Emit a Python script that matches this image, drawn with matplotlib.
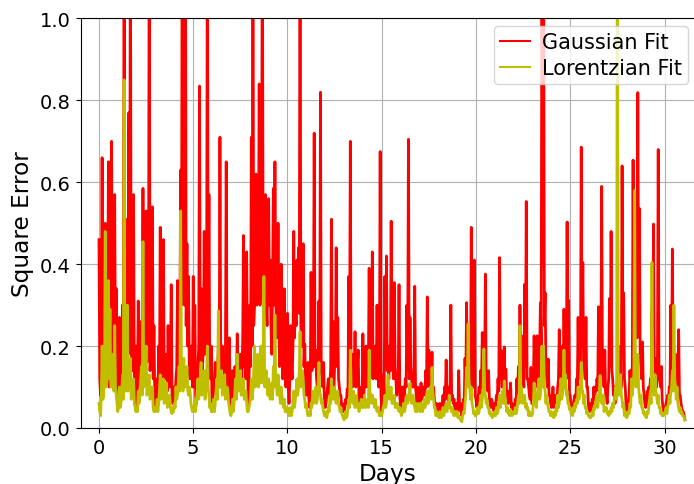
import matplotlib
matplotlib.use("Agg")
import matplotlib.pyplot as plt
import numpy as np

# Square error of the two line-shape fits, sampled hourly (24 samples per day).
samples_per_day = 24

gauss_err = [
    # day 0
    0.46, 0.12, 0.08, 0.20, 0.66, 0.10, 0.15, 0.28, 0.50, 0.12, 0.14, 0.22, 0.65, 0.10, 0.20, 0.26, 0.70, 0.12, 0.18, 0.30, 0.57, 0.14, 0.34, 0.08,
    0.05, 0.12, 0.27, 0.08, 0.10, 0.18, 0.30, 0.10, 1.30, 0.16, 0.15, 0.22, 0.51, 0.18, 0.77, 0.20, 1.30, 0.16, 0.14, 0.25, 0.57, 0.10, 0.12, 0.20,
    0.05, 0.10, 0.31, 0.12, 0.26, 0.10, 0.12, 0.20, 0.585, 0.14, 0.30, 0.12, 0.53, 0.16, 0.475, 0.20, 1.30, 0.14, 0.18, 0.22, 0.54, 0.12, 0.25, 0.08,
    0.05, 0.08, 0.12, 0.06, 0.20, 0.12, 0.49, 0.10, 0.15, 0.20, 0.46, 0.12, 0.12, 0.18, 0.16, 0.09, 0.25, 0.12, 0.10, 0.14, 0.35, 0.08, 0.06, 0.10,
    0.05, 0.08, 0.12, 0.15, 0.36, 0.12, 0.15, 0.25, 0.63, 0.30, 1.30, 0.35, 0.45, 0.30, 1.30, 0.25, 0.45, 0.20, 0.37, 0.14, 0.12, 0.18, 0.20, 0.10,
    # day 5
    0.37, 0.10, 0.30, 0.08, 0.06, 0.10, 0.15, 0.20, 0.835, 0.15, 0.34, 0.12, 0.15, 0.22, 0.48, 0.18, 0.20, 0.25, 1.30, 0.20, 0.57, 0.14, 0.12, 0.20,
    0.04, 0.08, 0.10, 0.12, 0.16, 0.08, 0.10, 0.14, 0.20, 0.10, 0.71, 0.15, 0.12, 0.20, 0.16, 0.10, 0.12, 0.18, 0.65, 0.12, 0.10, 0.16, 0.22, 0.08,
    0.04, 0.07, 0.14, 0.08, 0.10, 0.15, 0.14, 0.10, 0.23, 0.14, 0.12, 0.16, 0.18, 0.10, 0.12, 0.22, 0.47, 0.15, 0.20, 0.12, 0.43, 0.20, 0.06, 0.10,
    0.30, 0.15, 0.71, 0.20, 1.30, 0.25, 0.30, 0.35, 0.62, 0.30, 0.53, 0.40, 0.84, 0.30, 0.35, 0.45, 1.30, 0.35, 0.30, 0.40, 0.57, 0.30, 0.25, 0.40,
    0.56, 0.30, 0.41, 0.25, 0.18, 0.35, 0.585, 0.30, 0.65, 0.35, 0.22, 0.30, 0.50, 0.25, 0.15, 0.22, 0.40, 0.18, 0.12, 0.20, 0.34, 0.15, 0.10, 0.18,
    # day 10
    0.28, 0.10, 0.06, 0.12, 0.25, 0.15, 0.12, 0.20, 0.48, 0.22, 0.33, 0.25, 0.41, 0.30, 0.44, 0.28, 1.30, 0.25, 0.20, 0.20, 0.45, 0.15, 0.205, 0.10,
    0.08, 0.12, 0.16, 0.08, 0.05, 0.10, 0.38, 0.14, 0.15, 0.20, 0.72, 0.15, 0.19, 0.12, 0.10, 0.16, 0.31, 0.15, 0.82, 0.14, 0.12, 0.10, 0.16, 0.06,
    0.05, 0.06, 0.08, 0.10, 0.12, 0.08, 0.10, 0.15, 0.51, 0.12, 0.26, 0.10, 0.15, 0.18, 0.44, 0.15, 0.27, 0.12, 0.10, 0.08, 0.08, 0.05, 0.06, 0.04,
    0.04, 0.05, 0.07, 0.06, 0.095, 0.08, 0.37, 0.15, 0.70, 0.12, 0.15, 0.10, 0.18, 0.12, 0.235, 0.10, 0.12, 0.15, 0.19, 0.08, 0.06, 0.07, 0.10, 0.06,
    0.23, 0.08, 0.10, 0.14, 0.20, 0.10, 0.12, 0.16, 0.39, 0.12, 0.15, 0.18, 0.43, 0.12, 0.14, 0.16, 0.20, 0.12, 0.30, 0.15, 0.10, 0.12, 0.675, 0.08,
    # day 15
    0.04, 0.06, 0.13, 0.08, 0.37, 0.15, 0.42, 0.14, 0.18, 0.12, 0.20, 0.14, 0.505, 0.18, 0.15, 0.12, 0.355, 0.15, 0.12, 0.08, 0.10, 0.12, 0.35, 0.08,
    0.05, 0.07, 0.10, 0.06, 0.10, 0.08, 0.12, 0.10, 0.30, 0.14, 0.705, 0.12, 0.27, 0.15, 0.12, 0.10, 0.10, 0.12, 0.346, 0.10, 0.08, 0.06, 0.10, 0.05,
    0.05, 0.06, 0.11, 0.07, 0.08, 0.10, 0.10, 0.08, 0.14, 0.10, 0.32, 0.12, 0.19, 0.10, 0.14, 0.12, 0.185, 0.08, 0.10, 0.07, 0.05, 0.04, 0.06, 0.05,
    0.04, 0.05, 0.06, 0.04, 0.05, 0.06, 0.08, 0.05, 0.10, 0.07, 0.166, 0.08, 0.10, 0.06, 0.08, 0.10, 0.30, 0.07, 0.08, 0.06, 0.07, 0.04, 0.05, 0.06,
    0.05, 0.04, 0.14, 0.06, 0.06, 0.04, 0.03, 0.05, 0.07, 0.06, 0.17, 0.10, 0.306, 0.12, 0.20, 0.15, 0.15, 0.10, 0.49, 0.12, 0.12, 0.10, 0.41, 0.08,
    # day 20
    0.07, 0.05, 0.06, 0.08, 0.10, 0.06, 0.14, 0.10, 0.233, 0.10, 0.12, 0.14, 0.376, 0.10, 0.12, 0.09, 0.14, 0.07, 0.06, 0.05, 0.07, 0.06, 0.05, 0.04,
    0.06, 0.05, 0.08, 0.07, 0.12, 0.09, 0.416, 0.12, 0.19, 0.10, 0.10, 0.12, 0.198, 0.10, 0.144, 0.08, 0.08, 0.06, 0.09, 0.07, 0.11, 0.05, 0.06, 0.04,
    0.04, 0.05, 0.07, 0.06, 0.12, 0.08, 0.15, 0.10, 0.30, 0.12, 0.225, 0.14, 0.12, 0.10, 0.351, 0.15, 0.553, 0.12, 0.12, 0.10, 0.08, 0.07, 0.148, 0.06,
    0.06, 0.10, 0.225, 0.12, 0.10, 0.14, 0.225, 0.12, 0.148, 0.18, 0.306, 0.20, 1.30, 0.40, 1.30, 0.25, 0.33, 0.15, 0.12, 0.10, 0.168, 0.08, 0.08, 0.06,
    0.05, 0.06, 0.10, 0.05, 0.08, 0.07, 0.08, 0.06, 0.10, 0.12, 0.24, 0.10, 0.12, 0.15, 0.20, 0.12, 0.29, 0.15, 0.14, 0.12, 0.503, 0.14, 0.312, 0.08,
    # day 25
    0.08, 0.05, 0.05, 0.04, 0.06, 0.07, 0.08, 0.06, 0.12, 0.10, 0.27, 0.12, 0.15, 0.14, 0.686, 0.20, 0.404, 0.15, 0.15, 0.12, 0.27, 0.10, 0.10, 0.06,
    0.04, 0.05, 0.06, 0.04, 0.07, 0.06, 0.10, 0.07, 0.10, 0.09, 0.12, 0.10, 0.296, 0.12, 0.15, 0.14, 0.59, 0.12, 0.12, 0.10, 0.19, 0.08, 0.08, 0.06,
    0.10, 0.12, 0.316, 0.15, 0.48, 0.14, 0.12, 0.08, 0.10, 0.06, 0.08, 0.07, 0.12, 0.10, 0.20, 0.12, 0.14, 0.10, 0.64, 0.20, 0.33, 0.12, 0.10, 0.06,
    0.04, 0.05, 0.06, 0.08, 0.14, 0.10, 0.13, 0.15, 0.654, 0.20, 0.30, 0.25, 0.40, 0.22, 0.819, 0.30, 0.536, 0.18, 0.15, 0.12, 0.21, 0.10, 0.08, 0.06,
    0.05, 0.06, 0.09, 0.07, 0.10, 0.08, 0.12, 0.10, 0.286, 0.15, 0.498, 0.14, 0.17, 0.12, 0.10, 0.14, 0.68, 0.12, 0.12, 0.10, 0.15, 0.07, 0.05, 0.04,
    # day 30
    0.04, 0.05, 0.06, 0.07, 0.08, 0.06, 0.10, 0.09, 0.30, 0.14, 0.437, 0.15, 0.15, 0.12, 0.18, 0.10, 0.10, 0.12, 0.24, 0.08, 0.08, 0.06, 0.05, 0.04,
    0.04, 0.03, 0.02,
]

lorentz_err = [
    # day 0
    0.06, 0.04, 0.03, 0.08, 0.20, 0.07, 0.08, 0.14, 0.48, 0.10, 0.11, 0.15, 0.36, 0.12, 0.29, 0.10, 0.10, 0.14, 0.18, 0.09, 0.25, 0.10, 0.08, 0.06,
    0.04, 0.06, 0.10, 0.05, 0.06, 0.09, 0.13, 0.07, 0.85, 0.10, 0.09, 0.12, 0.30, 0.09, 0.10, 0.12, 0.17, 0.07, 0.08, 0.10, 0.12, 0.06, 0.05, 0.04,
    0.05, 0.04, 0.09, 0.06, 0.08, 0.11, 0.15, 0.08, 0.455, 0.10, 0.11, 0.14, 0.20, 0.08, 0.09, 0.12, 0.13, 0.07, 0.08, 0.10, 0.10, 0.05, 0.04, 0.05,
    0.04, 0.05, 0.07, 0.04, 0.06, 0.09, 0.13, 0.07, 0.08, 0.10, 0.12, 0.06, 0.07, 0.09, 0.11, 0.05, 0.06, 0.07, 0.08, 0.05, 0.04, 0.035, 0.05, 0.04,
    0.06, 0.05, 0.10, 0.07, 0.08, 0.11, 0.15, 0.09, 0.53, 0.12, 0.12, 0.09, 0.17, 0.11, 0.10, 0.13, 0.15, 0.09, 0.08, 0.10, 0.09, 0.06, 0.05, 0.04,
    # day 5
    0.04, 0.05, 0.07, 0.04, 0.06, 0.09, 0.12, 0.07, 0.09, 0.12, 0.16, 0.08, 0.10, 0.11, 0.14, 0.07, 0.09, 0.12, 0.20, 0.10, 0.08, 0.05, 0.06, 0.04,
    0.04, 0.05, 0.07, 0.04, 0.06, 0.09, 0.12, 0.07, 0.286, 0.10, 0.10, 0.12, 0.14, 0.08, 0.09, 0.11, 0.13, 0.07, 0.08, 0.10, 0.09, 0.06, 0.05, 0.035,
    0.03, 0.04, 0.07, 0.04, 0.06, 0.09, 0.12, 0.07, 0.18, 0.11, 0.09, 0.12, 0.14, 0.08, 0.08, 0.11, 0.12, 0.07, 0.07, 0.09, 0.06, 0.04, 0.04, 0.05,
    0.06, 0.08, 0.12, 0.07, 0.09, 0.14, 0.20, 0.10, 0.12, 0.15, 0.18, 0.10, 0.11, 0.15, 0.20, 0.11, 0.14, 0.16, 0.37, 0.10, 0.12, 0.14, 0.10, 0.08,
    0.12, 0.08, 0.07, 0.09, 0.11, 0.07, 0.15, 0.10, 0.276, 0.12, 0.10, 0.08, 0.13, 0.10, 0.08, 0.06, 0.10, 0.08, 0.06, 0.05, 0.07, 0.04, 0.04, 0.05,
    # day 10
    0.05, 0.035, 0.03, 0.04, 0.05, 0.03, 0.04, 0.06, 0.09, 0.05, 0.07, 0.09, 0.12, 0.08, 0.10, 0.14, 0.235, 0.10, 0.11, 0.14, 0.12, 0.08, 0.07, 0.05,
    0.06, 0.04, 0.03, 0.035, 0.04, 0.03, 0.06, 0.05, 0.09, 0.06, 0.07, 0.08, 0.10, 0.06, 0.07, 0.10, 0.16, 0.09, 0.08, 0.06, 0.07, 0.05, 0.04, 0.03,
    0.03, 0.04, 0.025, 0.035, 0.05, 0.04, 0.08, 0.06, 0.12, 0.08, 0.07, 0.09, 0.10, 0.07, 0.06, 0.08, 0.09, 0.06, 0.05, 0.04, 0.05, 0.035, 0.03, 0.025,
    0.02, 0.03, 0.04, 0.025, 0.03, 0.05, 0.07, 0.05, 0.19, 0.10, 0.08, 0.06, 0.09, 0.07, 0.05, 0.07, 0.08, 0.05, 0.06, 0.04, 0.05, 0.06, 0.07, 0.05,
    0.06, 0.05, 0.08, 0.06, 0.05, 0.06, 0.07, 0.05, 0.19, 0.09, 0.08, 0.06, 0.08, 0.07, 0.06, 0.05, 0.07, 0.05, 0.04, 0.05, 0.05, 0.03, 0.035, 0.03,
    # day 15
    0.03, 0.04, 0.05, 0.06, 0.08, 0.05, 0.06, 0.09, 0.13, 0.08, 0.07, 0.09, 0.10, 0.06, 0.06, 0.07, 0.08, 0.05, 0.05, 0.06, 0.06, 0.045, 0.04, 0.05,
    0.04, 0.03, 0.035, 0.05, 0.06, 0.04, 0.05, 0.07, 0.08, 0.06, 0.07, 0.09, 0.11, 0.07, 0.06, 0.08, 0.08, 0.06, 0.05, 0.04, 0.06, 0.04, 0.05, 0.06,
    0.05, 0.04, 0.06, 0.05, 0.04, 0.05, 0.07, 0.05, 0.06, 0.08, 0.09, 0.06, 0.07, 0.09, 0.10, 0.07, 0.148, 0.09, 0.07, 0.05, 0.05, 0.03, 0.04, 0.03,
    0.03, 0.025, 0.04, 0.03, 0.025, 0.035, 0.05, 0.03, 0.04, 0.05, 0.06, 0.04, 0.05, 0.06, 0.08, 0.05, 0.05, 0.04, 0.05, 0.035, 0.03, 0.04, 0.04, 0.03,
    0.04, 0.025, 0.03, 0.025, 0.02, 0.02, 0.015, 0.03, 0.04, 0.035, 0.06, 0.08, 0.148, 0.10, 0.254, 0.12, 0.10, 0.07, 0.10, 0.06, 0.05, 0.035, 0.04, 0.03,
    # day 20
    0.03, 0.04, 0.05, 0.035, 0.04, 0.06, 0.08, 0.05, 0.07, 0.09, 0.193, 0.09, 0.08, 0.06, 0.07, 0.05, 0.05, 0.035, 0.04, 0.03, 0.035, 0.025, 0.03, 0.035,
    0.04, 0.03, 0.05, 0.035, 0.04, 0.06, 0.08, 0.05, 0.07, 0.08, 0.09, 0.06, 0.115, 0.07, 0.06, 0.04, 0.05, 0.035, 0.04, 0.03, 0.045, 0.035, 0.03, 0.035,
    0.04, 0.035, 0.05, 0.035, 0.04, 0.06, 0.08, 0.06, 0.25, 0.09, 0.10, 0.06, 0.08, 0.07, 0.08, 0.05, 0.06, 0.045, 0.05, 0.03, 0.04, 0.03, 0.035, 0.03,
    0.035, 0.06, 0.11, 0.07, 0.06, 0.05, 0.08, 0.10, 0.12, 0.07, 0.08, 0.12, 0.20, 0.10, 0.20, 0.10, 0.09, 0.06, 0.08, 0.06, 0.05, 0.04, 0.04, 0.03,
    0.04, 0.03, 0.03, 0.025, 0.04, 0.03, 0.05, 0.04, 0.08, 0.05, 0.06, 0.09, 0.12, 0.07, 0.08, 0.10, 0.19, 0.10, 0.13, 0.08, 0.09, 0.06, 0.06, 0.045,
    # day 25
    0.05, 0.035, 0.04, 0.03, 0.05, 0.04, 0.06, 0.05, 0.07, 0.06, 0.10, 0.07, 0.08, 0.10, 0.16, 0.09, 0.09, 0.06, 0.08, 0.05, 0.05, 0.035, 0.04, 0.03,
    0.03, 0.025, 0.025, 0.03, 0.04, 0.03, 0.05, 0.045, 0.06, 0.07, 0.08, 0.05, 0.07, 0.09, 0.128, 0.07, 0.06, 0.06, 0.08, 0.04, 0.05, 0.045, 0.05, 0.035,
    0.04, 0.03, 0.04, 0.035, 0.05, 0.04, 0.06, 0.05, 0.07, 0.08, 0.10, 0.07, 1.30, 0.09, 0.08, 0.10, 0.13, 0.08, 0.07, 0.05, 0.06, 0.03, 0.04, 0.03,
    0.025, 0.03, 0.04, 0.035, 0.06, 0.05, 0.12, 0.08, 0.10, 0.12, 0.58, 0.12, 0.10, 0.13, 0.18, 0.10, 0.08, 0.06, 0.08, 0.05, 0.05, 0.035, 0.04, 0.03,
    0.03, 0.025, 0.04, 0.035, 0.05, 0.07, 0.09, 0.06, 0.404, 0.10, 0.10, 0.08, 0.13, 0.09, 0.08, 0.06, 0.08, 0.05, 0.05, 0.035, 0.04, 0.03, 0.035, 0.03,
    # day 30
    0.035, 0.04, 0.05, 0.035, 0.05, 0.06, 0.08, 0.06, 0.09, 0.10, 0.14, 0.09, 0.30, 0.12, 0.10, 0.07, 0.10, 0.06, 0.05, 0.04, 0.05, 0.035, 0.04, 0.03,
    0.03, 0.025, 0.02,
]

days = np.arange(len(gauss_err)) / samples_per_day

fig = plt.figure(figsize=(6.94, 4.85), dpi=100)
ax = fig.add_axes([0.116, 0.1155, 0.8855, 0.8443])

ax.plot(days, gauss_err, color="r", linewidth=2.0, label="Gaussian Fit")
ax.plot(days, lorentz_err, color="y", linewidth=2.0, label="Lorentzian Fit")

ax.set_xlim(-0.98, 31.62)
ax.set_ylim(0.0, 1.0)
ax.set_xticks([0, 5, 10, 15, 20, 25, 30])
ax.set_yticks([0.0, 0.2, 0.4, 0.6, 0.8, 1.0])
ax.tick_params(labelsize=14)
ax.set_xlabel("Days", fontsize=16.7)
ax.set_ylabel("Square Error", fontsize=16.7)
ax.grid(True)
leg = ax.legend(loc="upper right", fontsize=15, handlelength=1.45, handletextpad=0.55,
                borderpad=0.28, labelspacing=0.3, borderaxespad=0.36)
for line in leg.get_lines():
    line.set_linewidth(1.5)

fig.savefig("out.png", dpi=100)
